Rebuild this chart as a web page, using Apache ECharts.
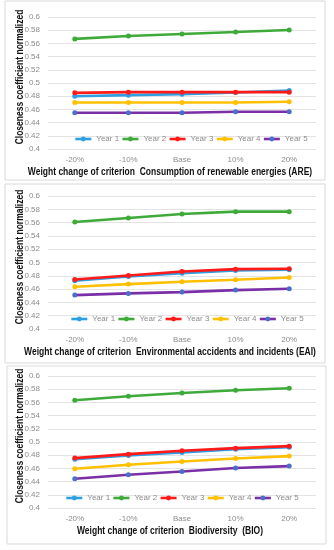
<!DOCTYPE html>
<html><head><meta charset="utf-8">
<script src="https://cdn.jsdelivr.net/npm/echarts@6/dist/echarts.min.js"></script>
<style>html,body{margin:0;padding:0;background:#fff}#c{width:334px;height:550px}</style>
</head><body><div id="c"></div>
<script>
const categories = ['-20%', '-10%', 'Base', '10%', '20%'];
const seriesNames = ['Year 1', 'Year 2', 'Year 3', 'Year 4', 'Year 5'];
const xTitles = [
  'Weight change of criterion  Consumption of renewable energies (ARE)',
  'Weight change of criterion  Environmental accidents and incidents (EAI)',
  'Weight change of criterion  Biodiversity  (BIO)'
];
const yTitle = 'Closeness coefficient normalized';
// Panel 1: ARE
const areY1 = [0.480, 0.4816, 0.4831, 0.4856, 0.4887];
const areY2 = [0.5668, 0.5713, 0.5743, 0.5773, 0.5804];
const areY3 = [0.4851, 0.4861, 0.4861, 0.4861, 0.4861];
const areY4 = [0.4705, 0.4705, 0.4705, 0.4705, 0.4715];
const areY5 = [0.4549, 0.4549, 0.4549, 0.4564, 0.4564];
// Panel 2: EAI
const eaiY1 = [0.4725, 0.479, 0.484, 0.488, 0.489];
const eaiY2 = [0.561, 0.567, 0.573, 0.5765, 0.5765];
const eaiY3 = [0.4745, 0.4805, 0.4865, 0.490, 0.4905];
const eaiY4 = [0.4635, 0.4675, 0.471, 0.474, 0.4775];
const eaiY5 = [0.451, 0.4535, 0.4555, 0.4585, 0.4605];
// Panel 3: BIO
const bioY1 = [0.474, 0.4796, 0.4841, 0.4892, 0.4922];
const bioY2 = [0.5632, 0.5693, 0.5743, 0.5783, 0.5814];
const bioY3 = [0.4756, 0.4816, 0.4867, 0.4907, 0.4937];
const bioY4 = [0.4594, 0.4655, 0.4705, 0.475, 0.4786];
const bioY5 = [0.4443, 0.4504, 0.4554, 0.4605, 0.4635];
const yTicks = { min: 0.4, max: 0.6, interval: 0.02 };

const panels = [
  [areY1, areY2, areY3, areY4, areY5],
  [eaiY1, eaiY2, eaiY3, eaiY4, eaiY5],
  [bioY1, bioY2, bioY3, bioY4, bioY5]
];
const lineColors = ['#2E9FE0', '#3EAA3A', '#FF1A1A', '#FFC000', '#7A2FA6'];
const markColors = ['#2E9FE0', '#3EAA3A', '#FF1A1A', '#FFC000', '#4A6FC8'];
const FONT = 'Liberation Sans';

const gridTops = [17, 196, 376];
const gridH = [132, 133, 132];
const legendTop = [135, 315, 494];
const legendLeft = [74, 70, 65];
const xTitleY = [172, 352, 531];
const yTitleC = [77, 257, 436];
const boxes = [[5, 1, 320, 179], [5, 184, 320, 179], [7, 366, 319, 178]];

const grid = [], xAxis = [], yAxis = [], series = [], legend = [], graphic = [];
panels.forEach((p, i) => {
  grid.push({ left: 48, right: 18, top: gridTops[i], height: gridH[i] });
  xAxis.push({
    type: 'category', gridIndex: i, data: categories, boundaryGap: true,
    axisLine: { show: false }, axisTick: { show: false },
    axisLabel: { color: '#8c8c8c', fontSize: 8, fontFamily: FONT, margin: 7 }
  });
  yAxis.push({
    type: 'value', gridIndex: i, min: yTicks.min, max: yTicks.max, interval: yTicks.interval,
    axisLine: { show: false }, axisTick: { show: false },
    splitLine: { lineStyle: { color: '#e3e3e3', width: 1 } },
    axisLabel: { color: '#8c8c8c', fontSize: 8, fontFamily: FONT, margin: 8,
      formatter: v => String(+v.toFixed(2)) }
  });
  p.forEach((d, k) => {
    series.push({
      name: seriesNames[k], type: 'line', xAxisIndex: i, yAxisIndex: i, data: d,
      symbol: 'circle', symbolSize: 5,
      lineStyle: { color: lineColors[k], width: 2.6 },
      itemStyle: { color: markColors[k] }, z: 2 + (k === 2 ? 1 : 0)
    });
  });
  legend.push({
    data: seriesNames.map((n, k) => ({ name: n, itemStyle: { color: markColors[k] }, lineStyle: { color: lineColors[k], width: 2.6 } })),
    left: legendLeft[i], top: legendTop[i], padding: 0, itemWidth: 16, itemHeight: 6, itemGap: 2,
    textStyle: { color: '#8c8c8c', fontSize: 8, fontFamily: FONT },
    selectedMode: false
  });
  graphic.push({
    type: 'rect', shape: { x: boxes[i][0], y: boxes[i][1], width: boxes[i][2], height: boxes[i][3] },
    style: { fill: 'none', stroke: '#d9d9d9', lineWidth: 1 }, z: -1
  });
  graphic.push({
    type: 'text', x: 170, y: xTitleY[i], scaleX: 0.81,
    style: { text: xTitles[i], fill: '#111', font: 'bold 10.5px ' + FONT, textAlign: 'center', textVerticalAlign: 'middle' }
  });
  graphic.push({
    type: 'text', x: 20, y: yTitleC[i], rotation: Math.PI / 2, scaleX: 0.81,
    style: { text: yTitle, fill: '#111', font: 'bold 10.5px ' + FONT, textAlign: 'center', textVerticalAlign: 'middle' }
  });
});

const chart = echarts.init(document.getElementById('c'), null, { renderer: 'canvas' });
chart.setOption({ animation: false, backgroundColor: '#fff', grid, xAxis, yAxis, series, legend, graphic });
</script></body></html>
